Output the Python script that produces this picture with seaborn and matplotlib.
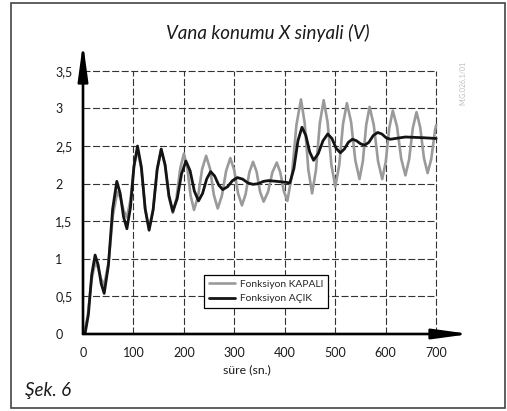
import matplotlib
matplotlib.use("Agg")
import matplotlib.pyplot as plt
from matplotlib.patches import Rectangle
import pandas as pd
import seaborn as sns

# ---- data ----
acik_t = [0, 4, 10.7, 17.3, 24, 30, 36, 42, 50.3, 58.7, 67, 73.7, 80.3, 87, 94, 101, 108,
          115.7, 123.3, 131, 139, 147, 155, 162.7, 170.3, 178, 186.7, 195.3, 204, 212.3,
          220.7, 229, 237, 245, 253, 261, 269, 277, 286.7, 296.3, 306, 316.3, 326.7, 337,
          347.3, 357.7, 368, 384, 398, 410, 418, 426, 434, 441.7, 449.3, 457, 466.3, 475.7,
          485, 493.3, 501.7, 510, 518, 526, 534, 542, 550, 558, 566.7, 575.3, 584, 592.3,
          600.7, 609, 619, 629, 639, 675, 700]
acik_v = [0.00, 0.00, 0.26, 0.79, 1.05, 0.92, 0.67, 0.54, 0.91, 1.66, 2.03, 1.87, 1.56, 1.40,
          1.68, 2.23, 2.50, 2.22, 1.66, 1.38, 1.65, 2.19, 2.46, 2.25, 1.84, 1.63, 1.80, 2.13,
          2.30, 2.17, 1.90, 1.77, 1.87, 2.06, 2.16, 2.10, 1.98, 1.92, 1.96, 2.04, 2.08, 2.06,
          2.01, 1.99, 2.00, 2.03, 2.04, 2.03, 2.02, 2.01, 2.20, 2.57, 2.75, 2.64, 2.42, 2.31,
          2.40, 2.57, 2.66, 2.60, 2.47, 2.41, 2.46, 2.55, 2.59, 2.57, 2.53, 2.51, 2.55, 2.64,
          2.68, 2.66, 2.61, 2.59, 2.60, 2.61, 2.62, 2.61, 2.60]

kapali_t = [0, 2, 9.3, 16.7, 24, 30, 36, 42, 50.7, 59.3, 68, 74.3, 80.7, 87, 94, 101, 108,
            115.7, 123.3, 131, 139, 147, 155, 162.7, 170.3, 178, 185.3, 192.7, 200, 206.7,
            213.3, 220, 228, 236, 244, 251.7, 259.3, 267, 275.3, 283.7, 292, 299.7, 307.3,
            315, 322.3, 329.7, 337, 344, 351, 358, 366.7, 375.3, 384, 391, 398, 405, 414, 423,
            432, 439.3, 446.7, 454, 461.7, 469.3, 477, 484.7, 492.3, 500, 507.7, 515.3, 523,
            531.3, 539.7, 548, 554.7, 561.3, 568, 576.3, 584.7, 593, 600, 607, 614, 622.3,
            630.7, 639, 646.3, 653.7, 661, 668.3, 675.7, 683, 690.3, 697.7, 700]
kapali_v = [0.00, 0.00, 0.24, 0.71, 0.95, 0.88, 0.73, 0.65, 0.96, 1.58, 1.89, 1.81, 1.64,
            1.55, 1.78, 2.23, 2.45, 2.19, 1.66, 1.40, 1.66, 2.19, 2.45, 2.24, 1.82, 1.61, 1.81,
            2.20, 2.40, 2.21, 1.84, 1.65, 1.83, 2.19, 2.37, 2.20, 1.85, 1.67, 1.84, 2.17, 2.34,
            2.18, 1.87, 1.71, 1.86, 2.15, 2.29, 2.16, 1.89, 1.76, 1.89, 2.15, 2.28, 2.15, 1.90,
            1.77, 2.11, 2.78, 3.12, 2.81, 2.18, 1.87, 2.18, 2.80, 3.11, 2.82, 2.25, 1.96, 2.24,
            2.79, 3.07, 2.82, 2.31, 2.06, 2.30, 2.78, 3.02, 2.78, 2.30, 2.06, 2.29, 2.74, 2.97,
            2.76, 2.33, 2.11, 2.32, 2.74, 2.95, 2.75, 2.34, 2.14, 2.33, 2.71, 2.78]

x_ticks = [0, 100, 200, 300, 400, 500, 600, 700]
x_tick_labels = ["0", "100", "200", "300", "400", "500", "600", "700"]
y_ticks = [0, 0.5, 1, 1.5, 2, 2.5, 3, 3.5]
y_tick_labels = ["0", "0,5", "1", "1,5", "2", "2,5", "3", "3,5"]
series_labels = ["Fonksiyon KAPALI", "Fonksiyon AÇIK"]
title = "Vana konumu X sinyali (V)"
xlabel = "süre (sn.)"
fig_label = "Şek. 6"
code_label = "M.G.026.1/01"

# ---- style ----
sns.set_style("white")
plt.rcParams['font.family'] = ['Lato', 'DejaVu Sans']

W, H = 507, 411
fig = plt.figure(figsize=(W / 100, H / 100), dpi=100)
fig.patch.set_facecolor("white")
ax = fig.add_axes([83 / W, 77 / H, 387 / W, 291 / H])
ax.set_facecolor("white")

XMAX, YMAX = 767, 3.87
ax.set_xlim(0, XMAX)
ax.set_ylim(0, YMAX)

# grid (dashed, closed box up to 700 / 3.5)
grid_kw = dict(color="#333333", lw=0.8, linestyle=(0, (6.3, 2.3)), zorder=1)
ax.vlines(x_ticks[1:], 0, y_ticks[-1], **grid_kw)
ax.hlines(y_ticks[1:], 0, x_ticks[-1], **grid_kw)

df_k = pd.DataFrame({"t": kapali_t, "v": kapali_v})
df_a = pd.DataFrame({"t": acik_t, "v": acik_v})
sns.lineplot(data=df_k, x="t", y="v", ax=ax, color="#9a9a9a", lw=1.9,
             sort=False, estimator=None, label=series_labels[0], zorder=3,
             solid_joinstyle="round", solid_capstyle="round")
sns.lineplot(data=df_a, x="t", y="v", ax=ax, color="#141414", lw=2.0,
             sort=False, estimator=None, label=series_labels[1], zorder=4,
             solid_joinstyle="round", solid_capstyle="round")

for s in ax.spines.values():
    s.set_visible(False)

# axis arrows
arrow_kw = dict(arrowstyle="-|>,head_length=2.2,head_width=0.3", lw=1.9, color="black",
                mutation_scale=10, shrinkA=0, shrinkB=0)
ax.annotate("", xy=(XMAX, 0), xytext=(0, 0), arrowprops=arrow_kw, annotation_clip=False, zorder=5)
ax.annotate("", xy=(0, YMAX), xytext=(0, 0), arrowprops=arrow_kw, annotation_clip=False, zorder=5)

ax.set_xticks(x_ticks)
ax.set_xticklabels(x_tick_labels)
ax.set_yticks(y_ticks)
ax.set_yticklabels(y_tick_labels, ha="left")
ax.tick_params(axis="both", length=0, labelsize=9, colors="#1a1a1a")
ax.tick_params(axis="x", pad=9)
ax.tick_params(axis="y", pad=20)
ax.set_xlabel("")
ax.set_ylabel("")

leg = ax.legend(loc="upper left", bbox_to_anchor=(204 / W, 1 - 275 / H),
                bbox_transform=fig.transFigure, borderaxespad=0, fontsize=7.4,
                frameon=True, fancybox=False, framealpha=1, edgecolor="black",
                handlelength=2.6, handletextpad=0.45, borderpad=0.45, labelspacing=0.5)
leg.get_frame().set_linewidth(0.9)
leg.set_zorder(10)

fig.text(268 / W, 1 - 33 / H, title, ha="center", va="center", style="italic", fontsize=13.5,
         color="#1a1a1a")
fig.text(247 / W, 1 - 370 / H, xlabel, ha="center", va="center", fontsize=8.8, color="#1a1a1a")
fig.text(25 / W, 1 - 390 / H, fig_label, ha="left", va="center", style="italic", fontsize=13.5,
         color="#1a1a1a")
fig.text(463 / W, 1 - 83 / H, code_label, ha="center", va="center", rotation=90, fontsize=5,
         color="#bdbdbd")

fig.patches.append(Rectangle((11 / W, 3 / H), (505 - 11) / W, (408 - 3) / H,
                             transform=fig.transFigure, fill=False, edgecolor="#444444", lw=1.2))

fig.savefig("out.png", dpi=100, facecolor="white")
